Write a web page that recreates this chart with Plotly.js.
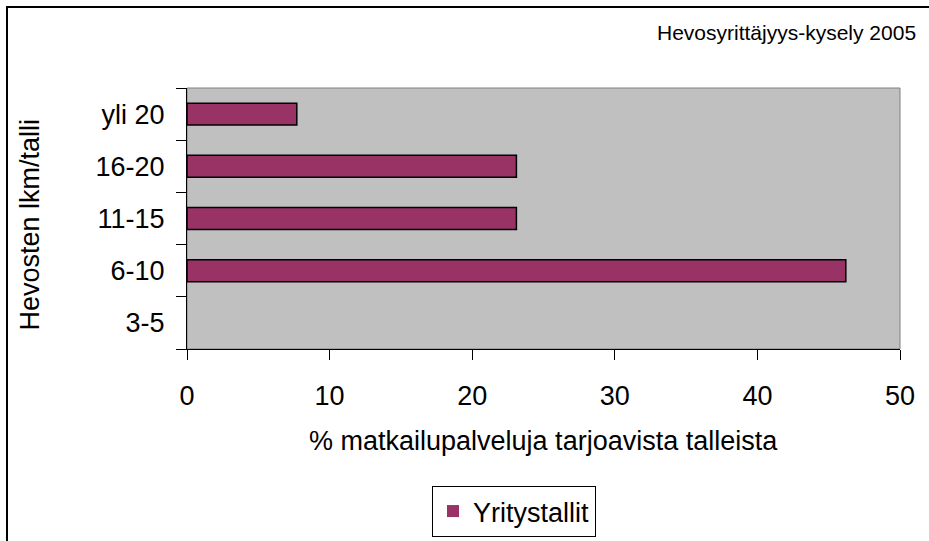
<!DOCTYPE html>
<html>
<head>
<meta charset="utf-8">
<script src="https://cdn.plot.ly/plotly-3.0.1.min.js"></script>
<style>
  body { margin: 0; background: #fff; }
  #frame { position: absolute; left: 6px; top: 6px; width: 940px; height: 560px;
           border-left: 2px solid #000; border-top: 2px solid #000; pointer-events: none; }
</style>
</head>
<body>
<div id="chart" style="width:929px;height:541px;"></div>
<div id="frame"></div>
<script>
// Hevosten lkm/talli -> % matkailupalveluja tarjoavista talleista
var categories = ["3-5", "6-10", "11-15", "16-20", "yli 20"];
var yritystallit = [0, 46.2, 23.1, 23.1, 7.7];

var trace = {
    type: "bar",
    orientation: "h",
    name: "Yritystallit",
    y: categories,
    x: yritystallit,
    width: 0.42,
    marker: {
        color: "#993366",
        // no outline on an empty bar
        line: {color: "#000", width: yritystallit.map(function (v) { return v > 0 ? 1.5 : 0; })}
    },
    hoverinfo: "x+y"
};

var font = {family: "Liberation Sans, Arial, sans-serif", size: 27, color: "#000"};

var layout = {
    width: 929,
    height: 541,
    margin: {l: 187, r: 29, t: 88, b: 192, autoexpand: false},
    paper_bgcolor: "#fff",
    plot_bgcolor: "#c0c0c0",
    font: font,
    showlegend: true,
    xaxis: {
        range: [0, 50],
        dtick: 10,
        ticks: "outside",
        ticklen: 10,
        tickcolor: "#000",
        showgrid: false,
        zeroline: false,
        showline: true,
        linecolor: "#000",
        linewidth: 1,
        tickfont: font,
        ticklabelstandoff: 13,
        automargin: false,
        fixedrange: true
    },
    yaxis: {
        type: "category",
        range: [-0.5, 4.5],
        tickson: "boundaries",
        ticks: "outside",
        ticklen: 10,
        tickcolor: "#000",
        showgrid: false,
        zeroline: false,
        showline: true,
        linecolor: "#000",
        linewidth: 1,
        tickfont: font,
        ticklabelstandoff: 16,
        automargin: false,
        fixedrange: true
    },
    legend: {
        x: 0.3436, y: -0.7203, xanchor: "left", yanchor: "bottom",
        bordercolor: "#000", borderwidth: 1, bgcolor: "#fff",
        font: font
    },
    shapes: [{
        type: "rect", xref: "paper", yref: "paper", x0: 0, x1: 1, y0: 0, y1: 1,
        line: {color: "#808080", width: 1}, layer: "below"
    }],
    annotations: [
        {text: "Hevosyrittäjyys-kysely 2005", xref: "paper", yref: "paper",
         x: 1.0252, y: 1.214, xanchor: "right", yanchor: "middle", showarrow: false,
         font: {family: font.family, size: 21, color: "#000"}},
        {text: "% matkailupalveluja tarjoavista talleista", xref: "paper", yref: "paper",
         x: 0.5, y: -0.352, xanchor: "center", yanchor: "middle", showarrow: false,
         font: font},
        {text: "Hevosten lkm/talli", xref: "paper", yref: "paper",
         x: -0.2202, y: 0.477, xanchor: "center", yanchor: "middle", showarrow: false,
         textangle: -90, font: font}
    ]
};

Plotly.newPlot("chart", [trace], layout, {displayModeBar: false, staticPlot: true});
</script>
</body>
</html>
